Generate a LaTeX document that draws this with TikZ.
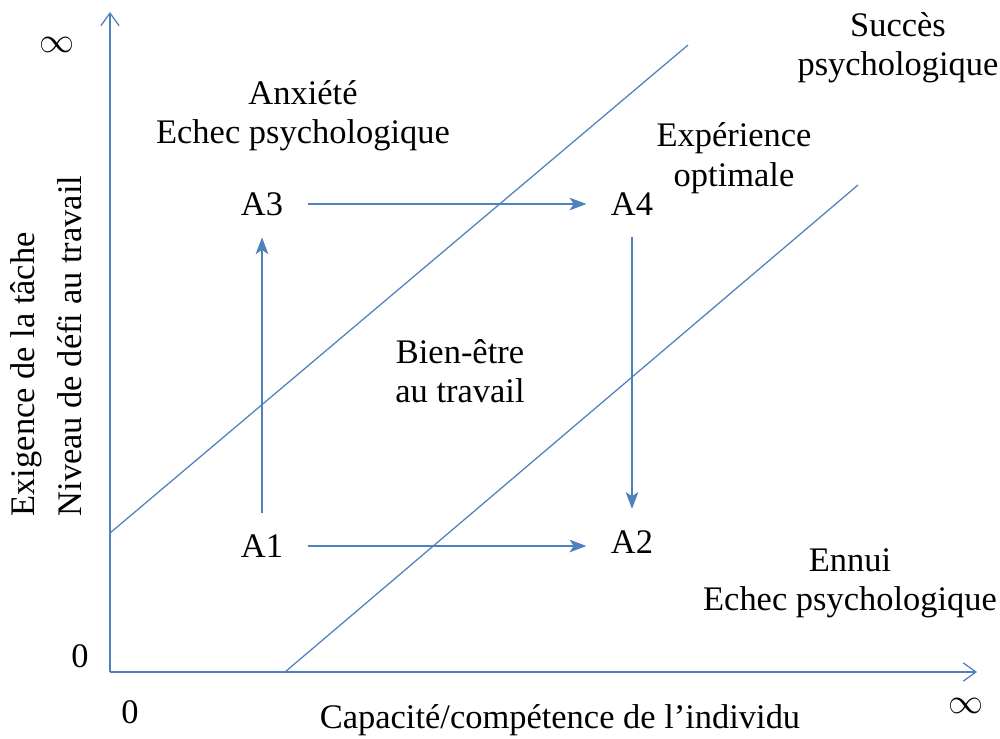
\documentclass[tikz,border=0pt]{standalone}
\usepackage{fontspec}
\setmainfont{Liberation Serif}
\usetikzlibrary{arrows.meta}
\definecolor{bleu}{RGB}{79,129,189}

\begin{document}
\begin{tikzpicture}[x=0.025cm, y=-0.025cm, every node/.style={font=\fontsize{24.5}{28}\selectfont, align=center}, >={Stealth[length=12pt, width=9pt, inset=3pt]}, line width=0.9pt]
        \useasboundingbox (0,0) rectangle (1000,738);
        \tikzset{etat/.style={inner xsep=17pt, inner ysep=15pt}, axe/.style={bleu, -{Straight Barb[length=9pt, width=13pt]}}}

        % axes
        \coordinate (origine) at (110,672);
        \coordinate (haut) at (110,12);
        \coordinate (droite) at (977,672);
        \draw[axe] (origine) -- (haut);
        \draw[axe] (origine) -- (droite);

        \coordinate (anxieteA) at (110,533);
        \coordinate (anxieteB) at (688,45);
        \coordinate (ennuiA) at (285,672);
        \coordinate (ennuiB) at (858,185);
        \draw[bleu] (anxieteA) -- (anxieteB);
        \draw[bleu] (ennuiA) -- (ennuiB);

        \node[etat](a1) at (262,546){A1};
        \node[etat](a2) at (632,542){A2};
        \node[etat](a3) at (262,204){A3};
        \node[etat](a4) at (632,204){A4};

        \draw[bleu, ->] (a1) -- (a3);
        \draw[bleu, ->] (a3) -- (a4);
        \draw[bleu, ->] (a1) -- (a1 -| a2.west);
        \draw[bleu, ->] (a4) -- (a2);

        \node(anxiete) at (303,116){Anxiété\\Echec psychologique};
        \node(experience) at (734,158){Expérience\\optimale};
        \node(succes) at (898,48){Succès\\psychologique};
        \node(bienetre) at (460,371){Bien-être\\au travail};
        \node(ennui) at (850,583){Ennui\\Echec psychologique};

        \node(zeroy) at (80,656){0};
        \node(zerox) at (130,712){0};
        \node(infiniy) at (57,45){$\infty$};
        \node(infinix) at (966,706){$\infty$};
        \node(capacite) at (560,720){Capacité/compétence de l’individu};
        \node[rotate=90, anchor=west, align=left, inner sep=0pt](exigence) at (46,517){Exigence de la tâche\\[5pt]Niveau de défi au travail};
      \end{tikzpicture}
\end{document}
